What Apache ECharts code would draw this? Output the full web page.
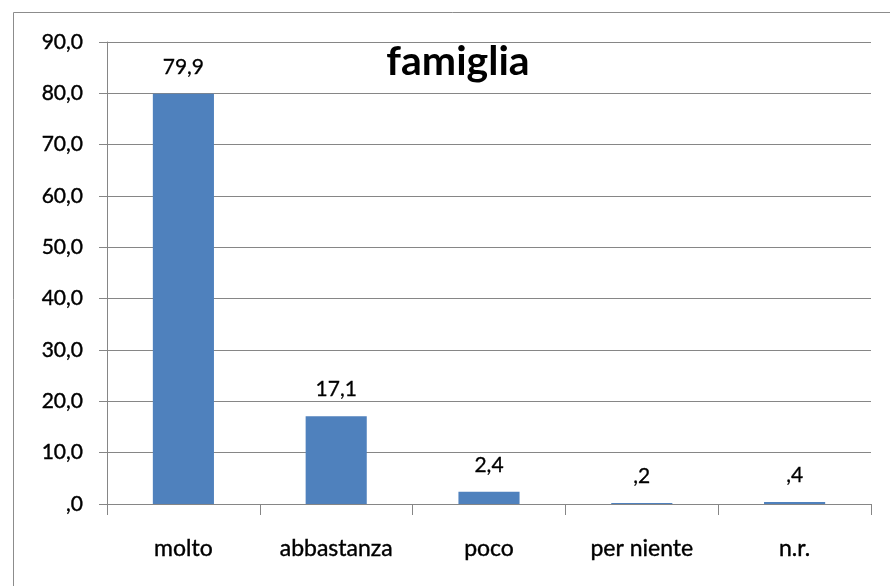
<!DOCTYPE html>
<html>
<head>
<meta charset="utf-8">
<script src="https://cdn.jsdelivr.net/npm/echarts@6/dist/echarts.min.js"></script>
<style>
html,body{margin:0;padding:0;background:#fff;}
#chart{width:890px;height:586px;}
</style>
</head>
<body>
<div id="chart"></div>
<script>
const chartTitle = 'famiglia';
const categories = ['molto', 'abbastanza', 'poco', 'per niente', 'n.r.'];
const values = [79.9, 17.1, 2.4, 0.2, 0.4];
const yMin = 0, yMax = 90, yStep = 10;

function fmt(v) {
  return v.toFixed(1).replace('.', ',').replace(/^0/, '');
}

const FONT = 'Lato';
const chart = echarts.init(document.getElementById('chart'), null, {renderer: 'canvas'});
chart.setOption({
  animation: false,
  backgroundColor: '#ffffff',
  title: {
    text: chartTitle,
    left: 453,
    top: 36,
    textAlign: 'center',
    textStyle: {fontFamily: FONT, fontSize: 41, fontWeight: 'bold', color: '#000'}
  },
  graphic: [{
    type: 'rect',
    shape: {x: 13.5, y: 12.5, width: 900, height: 600},
    style: {fill: 'none', stroke: '#8c8c8c', lineWidth: 1},
    silent: true, z: -1
  }],
  grid: {left: 107, right: 19, top: 42, bottom: 82, containLabel: false},
  xAxis: {
    type: 'category',
    data: categories,
    axisLine: {show: true, lineStyle: {color: '#868686', width: 1}},
    axisTick: {show: true, length: 11, inside: false, lineStyle: {color: '#868686'}},
    axisLabel: {fontFamily: FONT, fontSize: 23, color: '#000', margin: 33,
      textBorderColor: '#000', textBorderWidth: 0.4}
  },
  yAxis: {
    type: 'value',
    min: yMin, max: yMax, interval: yStep,
    axisLine: {show: true, lineStyle: {color: '#868686', width: 1}},
    axisTick: {show: true, length: 8, inside: false, lineStyle: {color: '#868686'}},
    splitLine: {show: true, lineStyle: {color: '#868686', width: 1}},
    axisLabel: {fontFamily: FONT, fontSize: 21, color: '#000', margin: 24, formatter: fmt,
      textBorderColor: '#000', textBorderWidth: 0.4}
  },
  series: [{
    type: 'bar',
    data: values,
    barCategoryGap: '60%',
    itemStyle: {color: '#4f81bd'},
    label: {
      show: true, position: 'top', distance: 16,
      fontFamily: FONT, fontSize: 21, color: '#000',
      textBorderColor: '#000', textBorderWidth: 0.3,
      formatter: p => fmt(p.value)
    }
  }]
});
</script>
</body>
</html>
